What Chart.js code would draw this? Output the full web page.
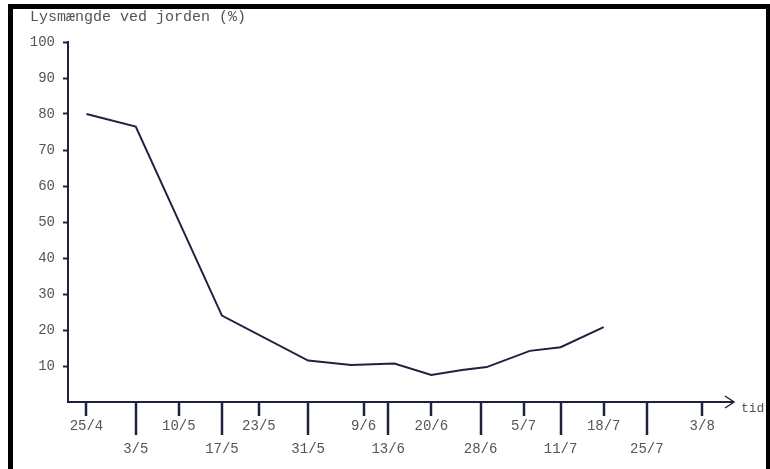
<!DOCTYPE html>
<html>
<head>
<meta charset="utf-8">
<script src="https://cdn.jsdelivr.net/npm/chart.js@4.4.1/dist/chart.umd.min.js"></script>
<style>
  html, body { margin: 0; padding: 0; background: #fff; }
  #wrap { width: 770px; height: 469px; position: relative; }
</style>
</head>
<body>
<div id="wrap"><canvas id="c" width="770" height="469"></canvas></div>
<script>
// ---- data ----
const titleText = 'Lysmængde ved jorden (%)';
const axisName = 'tid';
// measurement dates as day of year (25/4 = 115)
const dayValues   = [115, 123, 137, 151, 158, 165, 171, 176, 180, 187, 192, 199];
const lightValues = [80, 76.5, 24, 11.5, 10.3, 10.7, 7.5, 8.9, 9.7, 14.2, 15.2, 20.8];
// x-axis tick dates
const tickDays   = [115, 123, 130, 137, 143, 151, 160, 164, 171, 179, 186, 192, 199, 206, 215];
const tickLabels = ['25/4', '3/5', '10/5', '17/5', '23/5', '31/5', '9/6', '13/6', '20/6', '28/6', '5/7', '11/7', '18/7', '25/7', '3/8'];
const tickLong   = [false, true, false, true, false, true, false, true, false, true, false, true, false, true, false];
const yTicks = [0, 10, 20, 30, 40, 50, 60, 70, 80, 90, 100];

const INK = '#1e2240';
const TXT = '#555555';
const FONT = "'Liberation Mono', 'DejaVu Sans Mono', monospace";

const decor = {
  id: 'decor',
  beforeDraw(chart) {
    const ctx = chart.ctx;
    ctx.save();
    ctx.fillStyle = '#000';
    ctx.fillRect(8, 4, 762, 5);
    ctx.fillRect(8, 4, 5, 465);
    ctx.fillRect(766, 4, 4, 465);
    ctx.restore();
  },
  afterDraw(chart) {
    const ctx = chart.ctx;
    const xs = chart.scales.x;
    const y0 = chart.chartArea.bottom;
    ctx.save();
    ctx.strokeStyle = INK;
    ctx.lineWidth = 2.5;
    tickDays.forEach((d, i) => {
      const px = Math.round(xs.getPixelForValue(d));
      ctx.beginPath();
      ctx.moveTo(px, y0);
      ctx.lineTo(px, y0 + (tickLong[i] ? 33 : 14));
      ctx.stroke();
    });
    // arrow head
    const xr = chart.chartArea.right;
    ctx.lineWidth = 1.5;
    ctx.beginPath();
    ctx.moveTo(xr - 8, y0 - 6);
    ctx.lineTo(xr + 1, y0);
    ctx.lineTo(xr - 8, y0 + 6);
    ctx.stroke();
    ctx.fillStyle = TXT;
    ctx.font = '13px ' + FONT;
    ctx.textBaseline = 'middle';
    ctx.textAlign = 'left';
    ctx.fillText(axisName, xr + 8, y0 + 7);
    ctx.restore();
  }
};

new Chart(document.getElementById('c'), {
  type: 'line',
  data: {
    datasets: [{
      data: dayValues.map((d, i) => ({ x: d, y: lightValues[i] })),
      borderColor: INK,
      borderWidth: 2,
      pointRadius: 0,
      tension: 0,
      fill: false
    }]
  },
  options: {
    responsive: false,
    animation: false,
    layout: { padding: { left: 30, right: 37, top: 0, bottom: 0 } },
    plugins: {
      legend: { display: false },
      tooltip: { enabled: false },
      title: {
        display: true,
        text: titleText,
        align: 'start',
        color: TXT,
        font: { family: FONT, size: 15, weight: 'normal' },
        padding: { top: 8, bottom: 16 }
      }
    },
    scales: {
      x: {
        type: 'linear',
        min: 112,
        max: 220,
        afterBuildTicks(scale) { scale.ticks = tickDays.map(v => ({ value: v })); },
        afterFit(scale) { scale.height = 67; },
        grid: { display: true, drawOnChartArea: false, drawTicks: false },
        border: { display: true, color: INK, width: 2 },
        ticks: {
          autoSkip: false,
          maxRotation: 0,
          padding: 13,
          color: TXT,
          font: { family: FONT, size: 14, lineHeight: 1.64 },
          callback(value, index) {
            return tickLong[index] ? ['', tickLabels[index]] : tickLabels[index];
          }
        }
      },
      y: {
        min: 0,
        max: 100,
        afterBuildTicks(scale) { scale.ticks = yTicks.map(v => ({ value: v })); },
        afterFit(scale) { scale.width = 38; },
        grid: {
          drawOnChartArea: false,
          drawTicks: true,
          tickLength: 5,
          tickWidth: 2,
          tickColor: (c) => (c.tick && c.tick.value === 0 ? 'rgba(0,0,0,0)' : INK)
        },
        border: { display: true, color: INK, width: 2 },
        ticks: {
          padding: 8,
          color: TXT,
          font: { family: FONT, size: 14 },
          callback(value) { return value === 0 ? '' : String(value); }
        }
      }
    }
  },
  plugins: [decor]
});
</script>
</body>
</html>
